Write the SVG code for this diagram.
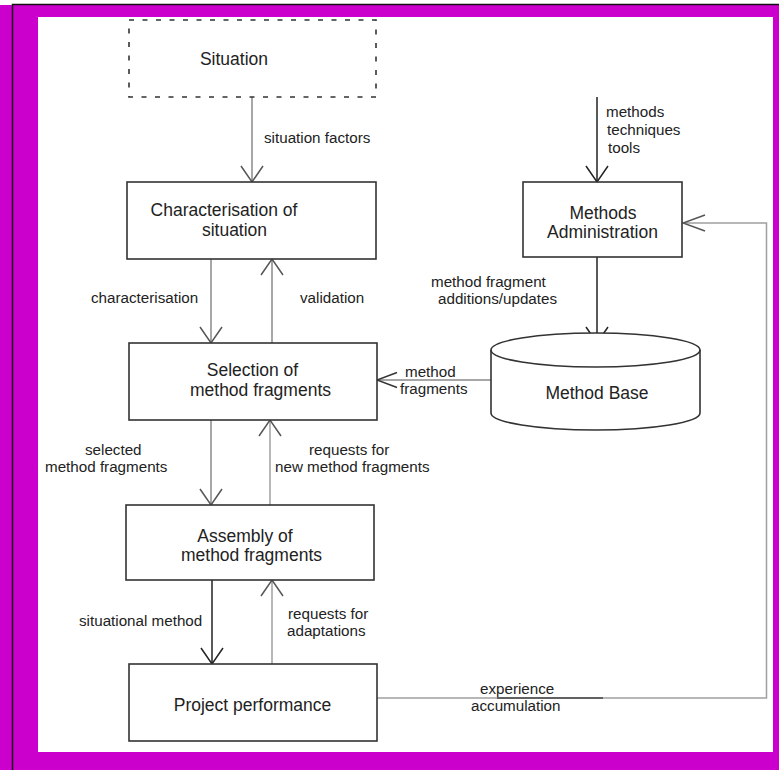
<svg xmlns="http://www.w3.org/2000/svg" width="779" height="770" viewBox="0 0 779 770">
  <style>
    .box { fill: #ffffff; stroke: #333333; stroke-width: 1.6; }
    .dash { fill: #ffffff; stroke: #333333; stroke-width: 1.6; stroke-dasharray: 5 8.5; }
    .node { font-family: "Liberation Sans", Arial, sans-serif; font-size: 17.5px; fill: #222222; text-anchor: middle; }
    .lbl { font-family: "Liberation Sans", Arial, sans-serif; font-size: 15.2px; fill: #222222; }
    .dark { fill: none; stroke: #222222; stroke-width: 1.5; }
    .gray { fill: none; stroke: #8a8a8a; stroke-width: 1.5; }
    .light { fill: none; stroke: #a0a0a0; stroke-width: 1.5; }
  </style>
  <defs>
    <marker id="vDark" markerUnits="userSpaceOnUse" viewBox="-18 -13 20 26" refX="0" refY="0" markerWidth="20" markerHeight="26" orient="auto">
      <path d="M-16,-11 L0,0 L-16,11" fill="none" stroke="#222222" stroke-width="1.5"/>
    </marker>
    <marker id="vGray" markerUnits="userSpaceOnUse" viewBox="-18 -13 20 26" refX="0" refY="0" markerWidth="20" markerHeight="26" orient="auto">
      <path d="M-16,-11 L0,0 L-16,11" fill="none" stroke="#555555" stroke-width="1.5"/>
    </marker>
    <marker id="hFrag" markerUnits="userSpaceOnUse" viewBox="-22 -10 24 20" refX="0" refY="0" markerWidth="24" markerHeight="20" orient="auto">
      <path d="M-20,-7.5 L0,0 L-20,7.5" fill="none" stroke="#333333" stroke-width="1.4"/>
    </marker>
    <marker id="hBack" markerUnits="userSpaceOnUse" viewBox="-24 -10 26 20" refX="0" refY="0" markerWidth="26" markerHeight="20" orient="auto">
      <path d="M-22,-8 L0,0 L-22,8" fill="none" stroke="#555555" stroke-width="1.5"/>
    </marker>
  </defs>

  <!-- frame -->
  <rect x="0" y="0" width="779" height="770" fill="#ffffff"/>
  <rect x="0" y="5" width="779" height="765" fill="#cc00cc"/>
  <rect x="38" y="17" width="735" height="735" fill="#ffffff"/>
  <path d="M12.5,770 V4.5 H779" fill="none" stroke="#111111" stroke-width="1.5"/>

  <!-- connectors -->
  <g id="connectors">
    <line class="gray" x1="252" y1="97" x2="252" y2="182" marker-end="url(#vGray)"/>
    <line class="dark" x1="597" y1="97" x2="597" y2="182" marker-end="url(#vDark)"/>
    <line class="gray" x1="211" y1="259" x2="211" y2="343" marker-end="url(#vGray)"/>
    <line class="gray" x1="272" y1="343" x2="272" y2="259" marker-end="url(#vGray)"/>
    <line class="dark" x1="597" y1="257" x2="597" y2="343" marker-end="url(#vDark)"/>
    <line class="gray" x1="491" y1="380" x2="377" y2="380" marker-end="url(#hFrag)"/>
    <line class="gray" x1="211" y1="420" x2="211" y2="505" marker-end="url(#vGray)"/>
    <line class="light" x1="270" y1="505" x2="270" y2="420" marker-end="url(#vGray)"/>
    <line class="dark" x1="212" y1="580" x2="212" y2="664" marker-end="url(#vDark)"/>
    <line class="light" x1="272" y1="664" x2="272" y2="580" marker-end="url(#vGray)"/>
    <path class="light" d="M377,698 H766.5 V223 H683" marker-end="url(#hBack)"/>
    <line x1="497" y1="698" x2="603" y2="698" stroke="#444444" stroke-width="1.5"/>
  </g>

  <!-- nodes -->
  <g id="situation">
    <rect class="dash" x="129" y="20" width="247" height="77"/>
    <text class="node" x="234" y="65">Situation</text>
  </g>
  <g id="characterisation">
    <rect class="box" x="127" y="182" width="249" height="77"/>
    <text class="node" x="224" y="216">Characterisation of</text>
    <text class="node" x="234.5" y="236">situation</text>
  </g>
  <g id="methods-administration">
    <rect class="box" x="523" y="182" width="159" height="75"/>
    <text class="node" x="603" y="219">Methods</text>
    <text class="node" x="602.5" y="238">Administration</text>
  </g>
  <g id="method-base">
    <path class="box" d="M491,350 A104.5,17 0 0 1 700,350 V413 A104.5,17 0 0 1 491,413 Z"/>
    <path fill="none" stroke="#333333" stroke-width="1.6" d="M491,350 A104.5,17 0 0 0 700,350"/>
    <text class="node" x="597" y="399">Method Base</text>
  </g>
  <g id="selection">
    <rect class="box" x="129" y="343" width="248" height="77"/>
    <text class="node" x="252.5" y="376">Selection of</text>
    <text class="node" x="260.5" y="396">method fragments</text>
  </g>
  <g id="assembly">
    <rect class="box" x="126" y="505" width="248" height="75"/>
    <text class="node" x="245" y="542">Assembly of</text>
    <text class="node" x="251.5" y="561">method fragments</text>
  </g>
  <g id="project-performance">
    <rect class="box" x="129" y="664" width="248" height="77"/>
    <text class="node" x="252.5" y="711">Project performance</text>
  </g>

  <!-- connector labels -->
  <g id="labels">
    <text class="lbl" x="264" y="143">situation factors</text>
    <text class="lbl" x="606" y="117">methods</text>
    <text class="lbl" x="607" y="135">techniques</text>
    <text class="lbl" x="608" y="153">tools</text>
    <text class="lbl" x="91" y="303">characterisation</text>
    <text class="lbl" x="300" y="303">validation</text>
    <text class="lbl" x="431" y="287">method fragment</text>
    <text class="lbl" x="438" y="304">additions/updates</text>
    <text class="lbl" x="405" y="377">method</text>
    <text class="lbl" x="400" y="394">fragments</text>
    <text class="lbl" x="85" y="455">selected</text>
    <text class="lbl" x="45" y="472">method fragments</text>
    <text class="lbl" x="309" y="455">requests for</text>
    <text class="lbl" x="275" y="472">new method fragments</text>
    <text class="lbl" x="79" y="626">situational method</text>
    <text class="lbl" x="288" y="619">requests for</text>
    <text class="lbl" x="287" y="636">adaptations</text>
    <text class="lbl" x="480" y="694">experience</text>
    <text class="lbl" x="471" y="711">accumulation</text>
  </g>
</svg>
